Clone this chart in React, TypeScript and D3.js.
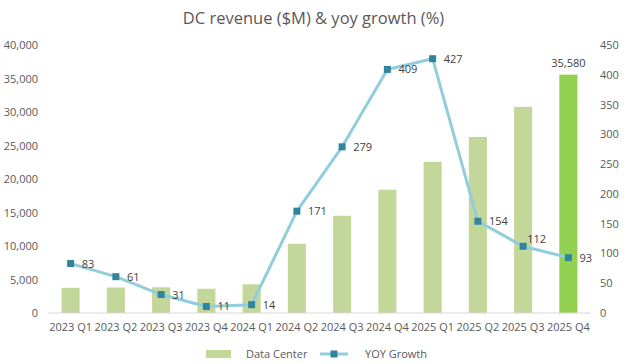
import React, { useEffect, useRef } from 'react'
import * as d3 from 'd3'

const quarters = ['2023 Q1', '2023 Q2', '2023 Q3', '2023 Q4', '2024 Q1', '2024 Q2', '2024 Q3', '2024 Q4', '2025 Q1', '2025 Q2', '2025 Q3', '2025 Q4']
const dcRevenue = [3750, 3806, 3833, 3616, 4284, 10323, 14514, 18404, 22563, 26272, 30771, 35580]
const yoyGrowth = [83, 61, 31, 11, 14, 171, 279, 409, 427, 154, 112, 93]
const leftTicks = [0, 5000, 10000, 15000, 20000, 25000, 30000, 35000, 40000]
const rightTicks = [0, 50, 100, 150, 200, 250, 300, 350, 400, 450]

const width = 627
const height = 364
const margin = { top: 45, right: 36, bottom: 51, left: 48 }
const font = '"Open Sans", "Noto Sans", sans-serif'
const textColor = '#595959'

export default function App() {
  const ref = useRef<SVGSVGElement>(null)

  useEffect(() => {
    const svg = d3.select(ref.current)
    svg.selectAll('*').remove()

    const x = d3.scaleBand()
      .domain(quarters)
      .range([margin.left, width - margin.right])
      .paddingInner(0.6)
      .paddingOuter(0.3)
    const yL = d3.scaleLinear().domain([0, 40000]).range([height - margin.bottom, margin.top])
    const yR = d3.scaleLinear().domain([0, 450]).range([height - margin.bottom, margin.top])
    const cx = (q: string) => (x(q) || 0) + x.bandwidth() / 2

    svg.append('text')
      .attr('x', width / 2).attr('y', 24)
      .attr('text-anchor', 'middle')
      .attr('font-family', font).attr('font-size', 16.5)
      .attr('fill', textColor)
      .text('DC revenue ($M) & yoy growth (%)')

    // left axis
    const gl = svg.append('g').attr('transform', `translate(${margin.left - 10},0)`)
      .call(d3.axisLeft(yL).tickValues(leftTicks).tickSize(0).tickPadding(0).tickFormat(d3.format(',')))
    gl.select('.domain').remove()
    gl.selectAll('text').attr('font-family', font).attr('font-size', 11).attr('fill', textColor)

    // right axis
    const gr = svg.append('g').attr('transform', `translate(${width - margin.right + 9},0)`)
      .call(d3.axisRight(yR).tickValues(rightTicks).tickSize(0).tickPadding(0))
    gr.select('.domain').remove()
    gr.selectAll('text').attr('font-family', font).attr('font-size', 11).attr('fill', textColor)

    // bars
    svg.append('g').selectAll('rect')
      .data(quarters)
      .join('rect')
      .attr('x', d => x(d) || 0)
      .attr('width', x.bandwidth())
      .attr('y', (d, i) => yL(dcRevenue[i]))
      .attr('height', (d, i) => yL(0) - yL(dcRevenue[i]))
      .attr('fill', (d, i) => i === quarters.length - 1 ? '#92d050' : '#c4d79b')

    // bottom axis
    const gb = svg.append('g').attr('transform', `translate(0,${height - margin.bottom})`)
      .call(d3.axisBottom(x).tickSize(0).tickPadding(10))
    gb.select('.domain').attr('stroke', '#d9d9d9').attr('d', `M${margin.left},0H${width - margin.right}`)
    gb.selectAll('text').attr('font-family', font).attr('font-size', 11).attr('fill', textColor)

    // last bar label
    const last = quarters.length - 1
    svg.append('text')
      .attr('x', cx(quarters[last])).attr('y', yL(dcRevenue[last]) - 8)
      .attr('text-anchor', 'middle')
      .attr('font-family', font).attr('font-size', 11).attr('fill', '#404040')
      .text(d3.format(',')(dcRevenue[last]))

    // growth line
    const line = d3.line<number>()
      .x((d, i) => cx(quarters[i]))
      .y(d => yR(d))
    svg.append('path')
      .datum(yoyGrowth)
      .attr('d', line)
      .attr('fill', 'none')
      .attr('stroke', '#92cddc')
      .attr('stroke-width', 3)
      .attr('stroke-linejoin', 'round')

    svg.append('g').selectAll('rect')
      .data(yoyGrowth)
      .join('rect')
      .attr('x', (d, i) => cx(quarters[i]) - 3.5)
      .attr('y', d => yR(d) - 3.5)
      .attr('width', 7).attr('height', 7)
      .attr('fill', '#31849b')

    // 2025 Q3 label sits above-right of its marker, the rest to the right
    svg.append('g').selectAll('text')
      .data(yoyGrowth)
      .join('text')
      .attr('x', (d, i) => cx(quarters[i]) + (i === 10 ? 4 : 11))
      .attr('y', (d, i) => yR(d) + (i === 10 ? -3 : 4))
      .attr('font-family', font).attr('font-size', 11).attr('fill', '#404040')
      .text(d => d)

    // legend
    const ly = 354
    svg.append('rect').attr('x', 206).attr('y', ly - 4).attr('width', 25).attr('height', 8).attr('fill', '#c4d79b')
    svg.append('text').attr('x', 246).attr('y', ly + 4)
      .attr('font-family', font).attr('font-size', 11).attr('fill', textColor).text('Data Center')
    svg.append('line').attr('x1', 320).attr('x2', 348).attr('y1', ly).attr('y2', ly)
      .attr('stroke', '#92cddc').attr('stroke-width', 3)
    svg.append('rect').attr('x', 330.5).attr('y', ly - 3.5).attr('width', 7).attr('height', 7).attr('fill', '#31849b')
    svg.append('text').attr('x', 365).attr('y', ly + 4)
      .attr('font-family', font).attr('font-size', 11).attr('fill', textColor).text('YOY Growth')
  }, [])

  return (
    <svg ref={ref} width={width} height={height} viewBox={`0 0 ${width} ${height}`}
      style={{ position: 'absolute', left: 0, top: 0, background: '#fff' }} />
  )
}
